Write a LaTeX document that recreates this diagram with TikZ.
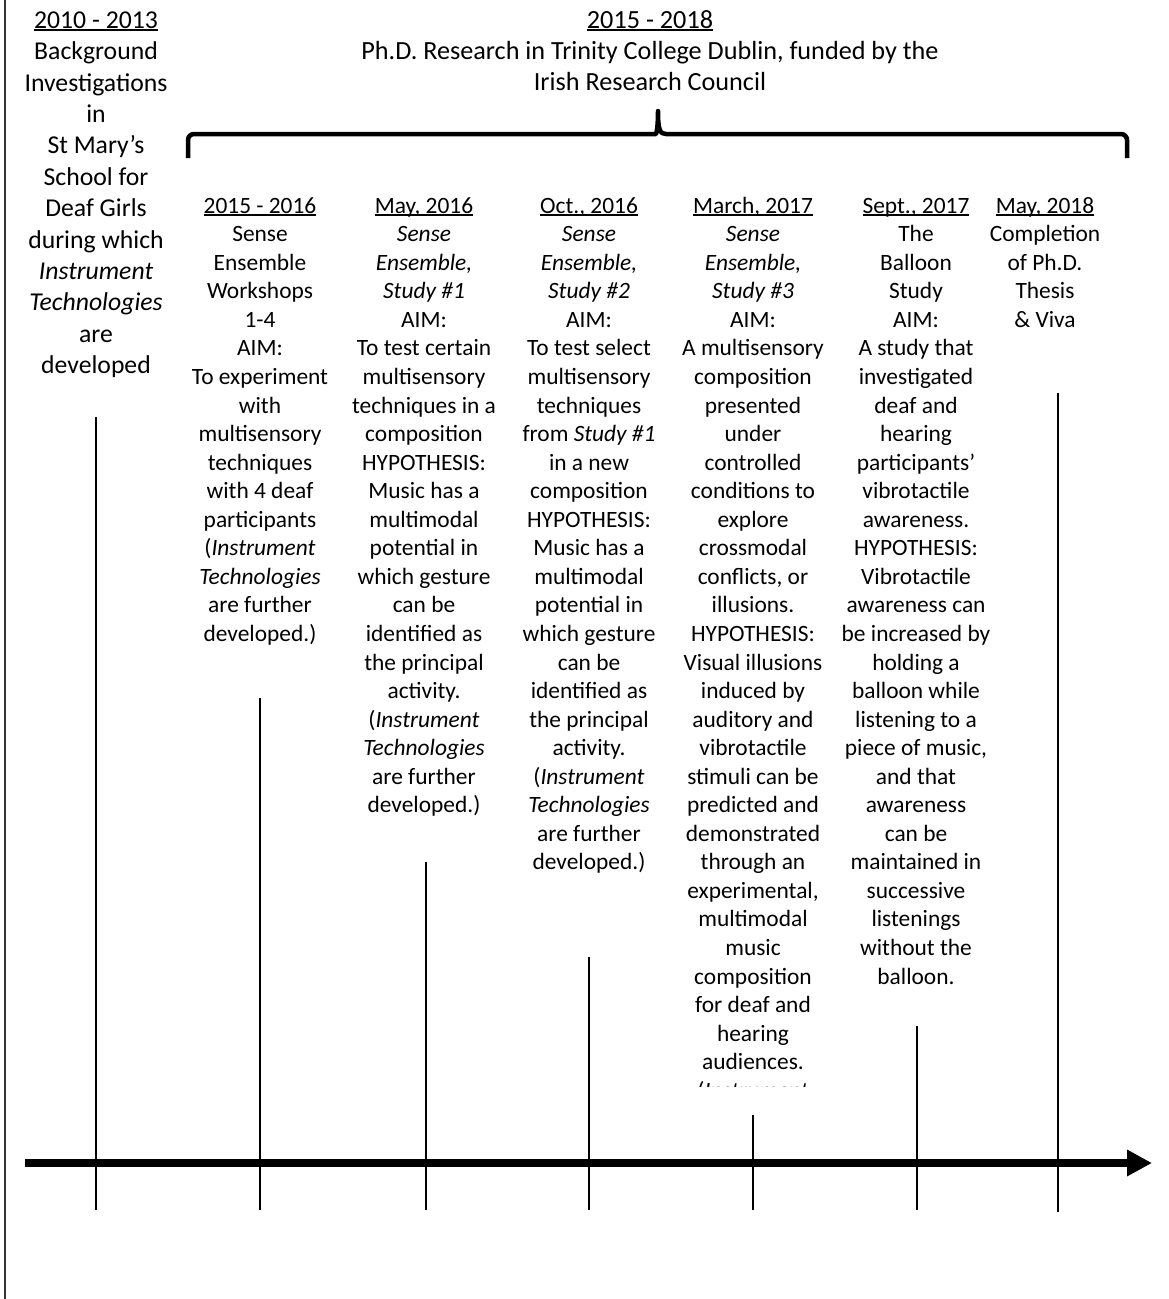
\documentclass[tikz,border=0pt]{standalone}
\usepackage{fontspec}
\setmainfont{Carlito}
\usetikzlibrary{arrows.meta}

\newcommand{\udate}[1]{\rule{0pt}{20pt}\setbox0\hbox{#1}\rlap{\rule[-3pt]{\wd0}{2pt}}\box0}

\begin{document}
\begin{tikzpicture}[x=1pt,y=-1pt]
    \tikzset{coltext/.style = {anchor=north, align=center, inner sep=0pt, font=\fontsize{23.4}{28.55}\selectfont}}
    \tikzset{bigtext/.style = {anchor=north, align=center, inner sep=0pt, font=\fontsize{25.7}{31.4}\selectfont}}
    \tikzset{timetick/.style = {line width=2.7pt}}
    \tikzset{brace/.style = {line width=4.5pt, line join=round}}
    \tikzset{axis/.style = {line width=8pt, -{Triangle[length=25pt, width=25pt]}}}

    \useasboundingbox (0,0) rectangle (1168,1299);
    \draw[line width=1.5pt, black!80] (5,0) -- (5,1299);

    % headings (top of node = baseline - 20)
    \node[bigtext] (bg) at (96,8) {\udate{2010 - 2013}\\Background\\Investigations\\in\\St Mary’s\\School for\\Deaf Girls\\during which\\\textit{Instrument}\\\textit{Technologies}\\are\\developed};
    \node[bigtext, font=\fontsize{26.2}{31}\selectfont] (phd) at (650,8) {\udate{2015 - 2018}\\Ph.D. Research in Trinity College Dublin, funded by the\\Irish Research Council};

    \draw[brace] (188,158) [rounded corners=6pt] -- (188,134) -- (650,134) [sharp corners] .. controls (656,134) and (658,130) .. (658,111) .. controls (658,130) and (660,134) .. (666,134) [rounded corners=6pt] -- (1127,134) -- (1127,158);

    % studies
    \node[coltext] (wk) at (260,193) {\udate{2015 - 2016}\\Sense\\Ensemble\\Workshops\\1-4\\AIM:\\To experiment\\with\\multisensory\\techniques\\with 4 deaf\\participants\\(\textit{Instrument}\\\textit{Technologies}\\are further\\developed.)};
    \node[coltext] (st1) at (424,193) {\udate{May, 2016}\\\textit{Sense}\\\textit{Ensemble,}\\\textit{Study \#1}\\AIM:\\To test certain\\multisensory\\techniques in a\\composition\\HYPOTHESIS:\\Music has a\\multimodal\\potential in\\which gesture\\can be\\identified as\\the principal\\activity.\\(\textit{Instrument}\\\textit{Technologies}\\are further\\developed.)};
    \node[coltext] (st2) at (589,193) {\udate{Oct., 2016}\\\textit{Sense}\\\textit{Ensemble,}\\\textit{Study \#2}\\AIM:\\To test select\\multisensory\\techniques\\from \textit{Study \#1}\\in a new\\composition\\HYPOTHESIS:\\Music has a\\multimodal\\potential in\\which gesture\\can be\\identified as\\the principal\\activity.\\(\textit{Instrument}\\\textit{Technologies}\\are further\\developed.)};
    \node[coltext] (st3) at (753,193) {\udate{March, 2017}\\\textit{Sense}\\\textit{Ensemble,}\\\textit{Study \#3}\\AIM:\\A multisensory\\composition\\presented\\under\\controlled\\conditions to\\explore\\crossmodal\\conflicts, or\\illusions.\\HYPOTHESIS:\\Visual illusions\\induced by\\auditory and\\vibrotactile\\stimuli can be\\predicted and\\demonstrated\\through an\\experimental,\\multimodal\\music\\composition\\for deaf and\\hearing\\audiences.};
    \begin{scope}
        \clip (680,1060) rectangle (830,1086);
        \node[coltext] (st3cut) at (753,1078) {\rule{0pt}{20pt}(\textit{Instrument}};
    \end{scope}
    \node[coltext] (bal) at (916,193) {\udate{Sept., 2017}\\The\\Balloon\\Study\\AIM:\\A study that\\investigated\\deaf and\\hearing\\participants’\\vibrotactile\\awareness.\\HYPOTHESIS:\\Vibrotactile\\awareness can\\be increased by\\holding a\\balloon while\\listening to a\\piece of music,\\and that\\awareness\\can be\\maintained in\\successive\\listenings\\without the\\balloon.};
    \node[coltext] (fin) at (1045,193) {\udate{May, 2018}\\Completion\\of Ph.D.\\Thesis\\\& Viva};

    % timeline
    \draw[timetick] (96,417) -- (96,1210);
    \draw[timetick] (260,698) -- (260,1210);
    \draw[timetick] (426,862) -- (426,1210);
    \draw[timetick] (589,957) -- (589,1210);
    \draw[timetick] (753,1115) -- (753,1210);
    \draw[timetick] (917,1026) -- (917,1210);
    \draw[timetick] (1058,393) -- (1058,1212);
    \draw[axis] (25,1163) -- (1152,1163);
\end{tikzpicture}
\end{document}
